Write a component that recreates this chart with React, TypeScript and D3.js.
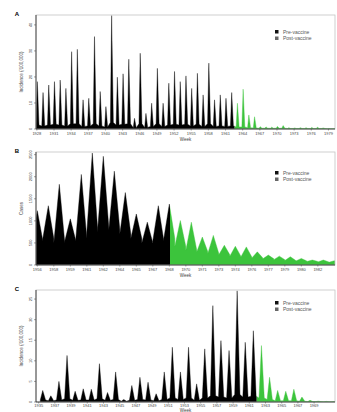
import * as d3 from "d3";
import { useEffect, useRef } from "react";

// ---- Panel A: incidence (/100,000), one peak per season ----
const aStart = 1928;
const aVaccine = 1962.6;
const aPrePeaks = [18.2, 14.0, 16.9, 18.2, 18.8, 15.6, 29.7, 30.6, 11.2, 11.8, 35.5, 14.4, 8.6, 43.6, 19.9, 21.2, 26.8, 4.1, 29.1, 6.0, 9.9, 23.3, 9.9, 17.6, 22.1, 18.2, 20.4, 15.6, 21.4, 13.1, 25.3, 11.2, 13.1, 11.8, 14.0];
const aPostPeaks = [9.9, 15.3, 5.4, 4.7, 0.9, 0.8, 0.7, 1.0, 1.3, 0.5, 0.4, 0.5, 0.5, 0.6, 0.7, 0.4, 0.2, 0.2];
const aPreTroughs = [1.5, 1.2, 1.5, 1.8, 1.5, 1.2, 2.0, 2.0, 1.0, 1.2, 2.0, 1.2, 0.8, 2.5, 1.5, 1.8, 2.0, 0.5, 2.0, 0.6, 1.0, 2.0, 1.0, 1.5, 1.8, 1.5, 1.8, 1.2, 1.8, 1.0, 2.0, 1.0, 1.2, 1.0, 1.2];
const aPostTroughs = [0.8, 0.8, 0.5, 0.4, 0.3, 0.3, 0.3, 0.3, 0.3, 0.2, 0.2, 0.2, 0.2, 0.2, 0.2, 0.2, 0.1, 0.1];
const aTickX = [1928, 1931, 1934, 1937, 1940, 1943, 1946, 1949, 1952, 1955, 1958, 1961, 1964, 1967, 1970, 1973, 1976, 1979];
const aTickY = [0, 10, 20, 30, 40];

// ---- Panel B: cases ----
const bStart = 1956;
const bVaccine = 1968.55;
const bPrePeaks = [1231, 1343, 1828, 1045, 2052, 2536, 2462, 2126, 1641, 1156, 970, 1343, 1380];
const bPostPeaks = [1007, 970, 634, 671, 448, 425, 410, 298, 224, 201, 187, 149, 112, 112, 97];
const bPreTroughs = [550, 600, 500, 550, 600, 750, 850, 800, 700, 600, 500, 550, 600];
const bPostTroughs = [420, 330, 300, 260, 230, 200, 180, 160, 140, 120, 100, 90, 80, 70, 60];
const bTickX = [1956.5, 1958, 1959.5, 1961, 1962.5, 1964, 1965.5, 1967, 1968.5, 1970, 1971.5, 1973, 1974.5, 1976, 1977.5, 1979, 1980.5, 1982];
const bTickLabels = ["1956", "1958", "1959", "1961", "1962", "1964", "1965", "1967", "1968", "1970", "1971", "1973", "1974", "1976", "1977", "1979", "1980", "1982"];
const bTickY = [0, 500, 1000, 1500, 2000, 2500];

// ---- Panel C: incidence (/100,000) ----
const cStart = 1935;
const cVaccine = 1961.92;
const cPrePeaks = [2.8, 1.5, 5.0, 11.3, 2.6, 3.2, 3.1, 9.3, 2.3, 7.3, 0.6, 4.0, 6.0, 4.8, 2.0, 7.3, 13.3, 7.3, 13.3, 4.4, 12.9, 23.4, 14.9, 12.5, 27.0, 14.5, 17.3];
const cPostPeaks = [13.7, 6.0, 2.8, 2.6, 3.1, 1.2, 0.4, 0.2, 0.15, 0.1];
const cPreTroughs = [0.5, 0.3, 0.5, 0.8, 0.4, 0.5, 0.5, 0.8, 0.4, 0.6, 0.2, 0.4, 0.6, 0.5, 0.3, 0.6, 1.0, 0.6, 1.0, 0.4, 1.0, 1.5, 1.2, 1.0, 1.8, 1.2, 1.4];
const cPostTroughs = [1.0, 0.6, 0.3, 0.3, 0.3, 0.2, 0.1, 0.1, 0.05, 0.05];
const cTickX = [1935, 1937, 1939, 1941, 1943, 1945, 1947, 1949, 1951, 1953, 1955, 1957, 1959, 1961, 1963, 1965, 1967, 1969];
const cTickY = [0, 5, 10, 15, 20, 25];

const legendLabels = ["Pre-vaccine", "Post-vaccine"];
const PRE = "#000000";
const POST = "#3cc43c";
const FONT = "Liberation Sans, Arial, sans-serif";

function seasonPoints(start, peaks, troughs, peakOffset, rise, fall) {
    const pts = [];
    peaks.forEach((p, i) => {
        const px = start + i + peakOffset;
        pts.push([px - rise, troughs[i]], [px, p], [px + fall, troughs[i]]);
    });
    return pts;
}

function drawPanel(svg, cfg, id) {
    const { top, bottom, left, right } = cfg;
    const g = svg.append("g");
    const x = d3.scaleLinear().domain(cfg.xDomain).range([left, right]);
    const y = d3.scaleLinear().domain(cfg.yDomain).range([bottom, top]);

    const pts = seasonPoints(cfg.start, cfg.peaks, cfg.troughs, cfg.peakOffset, cfg.rise, cfg.fall);
    const area = d3.area()
        .x((d) => x(d[0]))
        .y0(y(0))
        .y1((d) => y(d[1]));

    const vx = x(cfg.vaccine);
    const defs = g.append("defs");
    defs.append("clipPath").attr("id", id + "pre")
        .append("rect").attr("x", left).attr("y", top).attr("width", vx - left).attr("height", bottom - top);
    defs.append("clipPath").attr("id", id + "post")
        .append("rect").attr("x", vx).attr("y", top).attr("width", right - vx).attr("height", bottom - top);

    [["pre", PRE], ["post", POST]].forEach(([k, col]) => {
        g.append("path")
            .attr("clip-path", `url(#${id}${k})`)
            .attr("d", area(pts))
            .attr("fill", col)
            .attr("stroke", col)
            .attr("stroke-width", 0.4)
            .attr("stroke-linejoin", "miter");
    });

    // frame
    g.append("rect")
        .attr("x", left).attr("y", top)
        .attr("width", right - left).attr("height", bottom - top)
        .attr("fill", "none").attr("stroke", "#c4c4c4").attr("stroke-width", 0.8);
    g.append("line").attr("x1", left).attr("x2", left).attr("y1", top).attr("y2", bottom)
        .attr("stroke", "#222").attr("stroke-width", 0.8);
    g.append("line").attr("x1", left).attr("x2", right).attr("y1", bottom).attr("y2", bottom)
        .attr("stroke", "#222").attr("stroke-width", 0.8);

    // y ticks
    cfg.yTicks.forEach((t) => {
        g.append("line").attr("x1", left - 2).attr("x2", left).attr("y1", y(t)).attr("y2", y(t))
            .attr("stroke", "#444").attr("stroke-width", 0.5);
        g.append("text")
            .attr("transform", `translate(${left - 4},${y(t)}) rotate(-90)`)
            .attr("text-anchor", "middle")
            .attr("font-size", 4)
            .attr("fill", "#444")
            .text(t);
    });

    // x ticks
    cfg.xTicks.forEach((t, i) => {
        g.append("line").attr("x1", x(t)).attr("x2", x(t)).attr("y1", bottom).attr("y2", bottom + 1.5)
            .attr("stroke", "#444").attr("stroke-width", 0.5);
        g.append("text")
            .attr("x", x(t)).attr("y", bottom + cfg.tickOffset)
            .attr("text-anchor", "middle")
            .attr("font-size", 4)
            .attr("fill", "#444")
            .text(cfg.xLabels ? cfg.xLabels[i] : t);
    });

    // axis titles
    g.append("text")
        .attr("x", (left + right) / 2).attr("y", bottom + cfg.weekOffset)
        .attr("text-anchor", "middle").attr("font-size", 4.5).attr("fill", "#444")
        .text("Week");
    g.append("text")
        .attr("transform", `translate(${left - 13},${(top + bottom) / 2}) rotate(-90)`)
        .attr("text-anchor", "middle").attr("font-size", 4.5).attr("fill", "#444")
        .text(cfg.yTitle);

    // panel letter
    g.append("text")
        .attr("x", 17).attr("y", top + 1)
        .attr("text-anchor", "middle").attr("font-size", 6).attr("font-weight", "bold")
        .text(cfg.letter);

    // legend
    legendLabels.forEach((lab, i) => {
        const ly = cfg.legendY + i * 6.5;
        g.append("rect").attr("x", 275).attr("y", ly - 2).attr("width", 3.5).attr("height", 3.5)
            .attr("fill", i === 0 ? "#111" : "#666");
        g.append("text").attr("x", 283).attr("y", ly + 1.5)
            .attr("font-size", 5).attr("fill", "#555").text(lab);
    });
}

export default function App() {
    const svgRef = useRef(null);
    useEffect(() => {
        document.body.style.margin = "0";
        const svg = d3.select(svgRef.current);
        svg.selectAll("*").remove();
        svg.attr("width", 337).attr("height", 412);
        svg.style("background", "#FFF").style("font-family", FONT).style("display", "block");

        drawPanel(svg, {
            letter: "A", top: 15, bottom: 129, left: 36, right: 335,
            xDomain: [1927.85, 1980.15], yDomain: [0, 43.8],
            start: aStart, vaccine: aVaccine,
            peaks: aPrePeaks.concat(aPostPeaks), troughs: aPreTroughs.concat(aPostTroughs),
            peakOffset: 0.08, rise: 0.22, fall: 0.3,
            xTicks: aTickX, yTicks: aTickY, yTitle: "Incidence (/100,000)", legendY: 32,
            tickOffset: 5.5, weekOffset: 11.5,
        }, "a");

        drawPanel(svg, {
            letter: "B", top: 152, bottom: 265, left: 36, right: 335,
            xDomain: [1956.38, 1983.56], yDomain: [0, 2560],
            start: bStart, vaccine: bVaccine,
            peaks: bPrePeaks.concat(bPostPeaks), troughs: bPreTroughs.concat(bPostTroughs),
            peakOffset: 0.5, rise: 0.5, fall: 0.5,
            xTicks: bTickX, xLabels: bTickLabels, yTicks: bTickY, yTitle: "Cases", legendY: 173,
            tickOffset: 5.5, weekOffset: 11.5,
        }, "b");

        drawPanel(svg, {
            letter: "C", top: 290, bottom: 402, left: 36, right: 335,
            xDomain: [1934.67, 1971.58], yDomain: [0, 27.2],
            start: cStart, vaccine: cVaccine,
            peaks: cPrePeaks.concat(cPostPeaks), troughs: cPreTroughs.concat(cPostTroughs),
            peakOffset: 0.5, rise: 0.3, fall: 0.35,
            xTicks: cTickX, yTicks: cTickY, yTitle: "Incidence (/100,000)", legendY: 303,
            tickOffset: 4.7, weekOffset: 9.7,
        }, "c");
    }, []);

    return (
        <div>
            <svg ref={svgRef} />
        </div>
    );
}
